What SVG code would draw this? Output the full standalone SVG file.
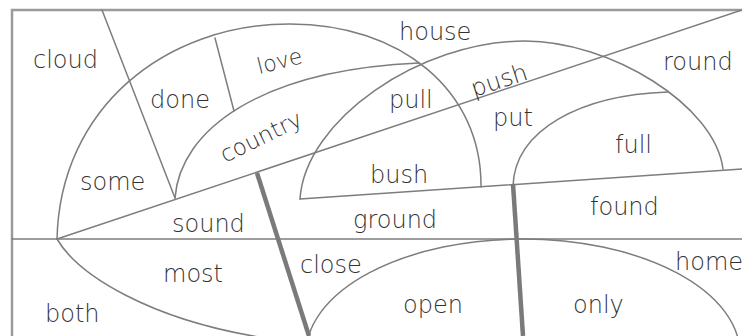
<svg xmlns="http://www.w3.org/2000/svg" width="742" height="336" viewBox="0 0 742 336">
<style>
.ln{fill:none;stroke:#7d7d7d;stroke-width:1.5;stroke-linecap:round}
.fr{fill:none;stroke:#9a9a9a;stroke-width:2.5}
.hd{fill:none;stroke:#7a7a7a;stroke-width:4.5}
text{font-family:"DejaVu Sans","Liberation Sans",sans-serif;font-size:24px;font-weight:200;fill:#333}
</style>
<rect width="742" height="336" fill="#fff"/>
<g id="frame">
<path class="fr" d="M12,336 V10 H742"/>
</g>
<g id="lines">
<path class="ln" d="M12,239 H742"/>
<path class="ln" d="M57,239 L742,10"/>
<path class="ln" d="M102,10 L175,198"/>
<path class="ln" d="M215,38 L234,111"/>
<path class="ln" d="M57,239 C60,108 165,24 290,24 C400,24 482,90 481,187"/>
<path class="ln" d="M300,199 C305,120 420,41 525,41 C610,41 715,105 723,169"/>
<path class="ln" d="M300,199 L742,169"/>
<path class="ln" d="M175,198 C180,130 260,70 419,63"/>
<path class="ln" d="M513,186 C515,130 580,95 668,92"/>
<path class="ln" d="M57,239 C78,275 150,320 265,338"/>
<ellipse class="ln" cx="523" cy="354" rx="217" ry="115"/>
<path class="hd" d="M257,173 L309,336"/>
<path class="hd" d="M513,184 L523,336"/>
</g>
<g id="labels">
<text x="33" y="68">cloud</text>
<text x="150" y="108">done</text>
<text transform="translate(259,74) rotate(-14)" style="font-size:22px">love</text>
<text x="399" y="40">house</text>
<text transform="translate(474,97) rotate(-18)">push</text>
<text x="663" y="70">round</text>
<text x="389" y="108">pull</text>
<text x="493" y="126">put</text>
<text x="615" y="153">full</text>
<text transform="translate(225,163) rotate(-26)" style="font-size:23px">country</text>
<text x="370" y="183">bush</text>
<text x="80" y="190">some</text>
<text x="172" y="232">sound</text>
<text x="353" y="228">ground</text>
<text x="590" y="215">found</text>
<text x="163" y="282">most</text>
<text x="300" y="273">close</text>
<text x="675" y="270">home</text>
<text x="45" y="322">both</text>
<text x="403" y="313">open</text>
<text x="573" y="313">only</text>
</g>
</svg>
